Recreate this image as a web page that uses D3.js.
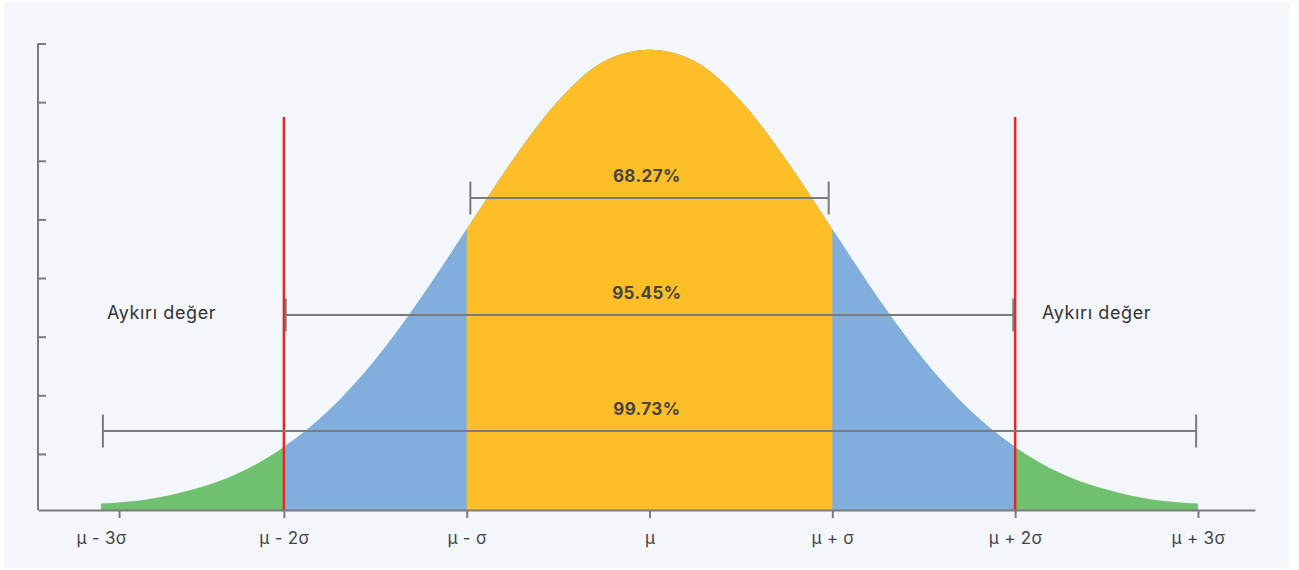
<!DOCTYPE html>
<html>
<head>
<meta charset="utf-8">
<script src="https://cdn.jsdelivr.net/npm/d3@7"></script>
<style>
  html, body { margin: 0; padding: 0; background: #ffffff; }
  svg { display: block; }
</style>
</head>
<body>
<svg id="chart" width="1299" height="570"></svg>
<script>
// ---- data ----
const sigmaPositions = [-3, -2.75, -2.5, -2.25, -2, -1.75, -1.5, -1.25, -1, -0.75, -0.5, -0.25, 0,
                        0.25, 0.5, 0.75, 1, 1.25, 1.5, 1.75, 2, 2.25, 2.5, 2.75, 3];
const densityValues = [0.0055, 0.009, 0.0175, 0.0315, 0.054, 0.086, 0.129, 0.182, 0.241, 0.300, 0.351, 0.385, 0.395,
                       0.385, 0.351, 0.300, 0.241, 0.182, 0.129, 0.086, 0.054, 0.0315, 0.0175, 0.009, 0.0055];
const tickValues = [-3, -2, -1, 0, 1, 2, 3];
const tickLabels = ["μ - 3σ", "μ - 2σ", "μ - σ", "μ", "μ + σ", "μ + 2σ", "μ + 3σ"];
const yTickValues = [0.05, 0.10, 0.15, 0.20, 0.25, 0.30, 0.35, 0.40];
const rangeStarts = [-0.98, -1.99, -2.99];
const rangeEnds = [0.98, 1.99, 2.99];
const rangeLabels = ["68.27%", "95.45%", "99.73%"];
const rangeLevels = [0.2678, 0.1674, 0.0678];
const outlierLines = [-2, 2];
const outlierLabels = ["Aykırı değer", "Aykırı değer"];
const outlierLabelX = [-2.9676, 2.147];
const outlierLevel = 0.168;
const zones = [
  {from: -3, to: 3, color: "#70c16f"},
  {from: -2, to: 2, color: "#81aedd"},
  {from: -1, to: 1, color: "#fdbe27"}
];

const svg = d3.select("#chart");
const W = 1299, H = 570;

// background panel
svg.append("rect").attr("x", 4).attr("y", 2).attr("width", 1286).attr("height", 566).attr("fill", "#f3f7fc");

const x = d3.scaleLinear().domain([-3.345, 3.312]).range([38, 1255]);
const y = d3.scaleLinear().domain([0, 0.4]).range([510, 44]);
const yTicksScale = d3.scaleLinear().domain([0, 0.4]).range([512.6, 43.5]);

const pts = sigmaPositions.map((s, i) => ({s, v: densityValues[i]}));

const area = d3.area()
  .x(d => x(d.s))
  .y0(y(0))
  .y1(d => y(d.v))
  .curve(d3.curveMonotoneX);

const defs = svg.append("defs");
zones.forEach((z, i) => {
  defs.append("clipPath").attr("id", "zone" + i)
    .append("rect")
    .attr("x", x(z.from)).attr("y", 0)
    .attr("width", x(z.to) - x(z.from)).attr("height", H);
  svg.append("path")
    .datum(pts)
    .attr("d", area)
    .attr("fill", z.color)
    .attr("clip-path", `url(#zone${i})`);
});

// red outlier lines
svg.selectAll(".outlier")
  .data(outlierLines)
  .enter().append("line")
  .attr("x1", d => x(d)).attr("x2", d => x(d))
  .attr("y1", 117).attr("y2", 510)
  .attr("stroke", "#e3262b").attr("stroke-width", 2.5);

// range bars
const gray = "#7b7b7b";
rangeLabels.forEach((lab, i) => {
  const yy = y(rangeLevels[i]);
  const g = svg.append("g");
  g.append("line").attr("x1", x(rangeStarts[i])).attr("x2", x(rangeEnds[i]))
    .attr("y1", yy).attr("y2", yy).attr("stroke", gray).attr("stroke-width", 2);
  [rangeStarts[i], rangeEnds[i]].forEach(v => {
    g.append("line").attr("x1", x(v)).attr("x2", x(v))
      .attr("y1", yy - 16.5).attr("y2", yy + 16.5)
      .attr("stroke", gray).attr("stroke-width", 2);
  });
  g.append("text").attr("x", x(-0.015)).attr("y", yy - 16)
    .attr("text-anchor", "middle")
    .attr("font-family", "Inter, 'Open Sans', sans-serif")
    .attr("font-weight", 700).attr("font-size", 17)
    .attr("letter-spacing", 0.4)
    .attr("fill", "#444444")
    .text(lab);
});

// outlier labels
svg.selectAll(".outlabel")
  .data(outlierLabels)
  .enter().append("text")
  .attr("x", (d, i) => x(outlierLabelX[i]))
  .attr("y", y(outlierLevel) + 5)
  .attr("font-family", "Inter, 'Open Sans', sans-serif")
  .attr("font-size", 18)
  .attr("letter-spacing", 0.6)
  .attr("fill", "#333333")
  .text(d => d);

// x axis
const xAxis = d3.axisBottom(x)
  .tickValues(tickValues)
  .tickFormat((d, i) => tickLabels[i])
  .tickSizeInner(8).tickSizeOuter(0).tickPadding(14);
const gx = svg.append("g").attr("transform", `translate(0,510)`).call(xAxis);
gx.select(".domain").attr("stroke", gray).attr("stroke-width", 2);
gx.selectAll(".tick line").attr("stroke", gray).attr("stroke-width", 2);
gx.selectAll(".tick").filter(d => d === -3).select("line").attr("x1", 18).attr("x2", 18);
gx.selectAll(".tick text")
  .attr("font-family", "Inter, 'Open Sans', sans-serif")
  .attr("font-size", 17).attr("letter-spacing", 0.3).attr("fill", "#444444");

// y axis
const yAxis = d3.axisRight(yTicksScale)
  .tickValues(yTickValues)
  .tickFormat("")
  .tickSizeInner(8).tickSizeOuter(0);
const gy = svg.append("g").attr("transform", `translate(38,0)`).call(yAxis);
gy.select(".domain").attr("d", `M0,${43.5}V510`).attr("stroke", gray).attr("stroke-width", 2);
gy.selectAll(".tick line").attr("stroke", gray).attr("stroke-width", 2);
</script>
</body>
</html>
